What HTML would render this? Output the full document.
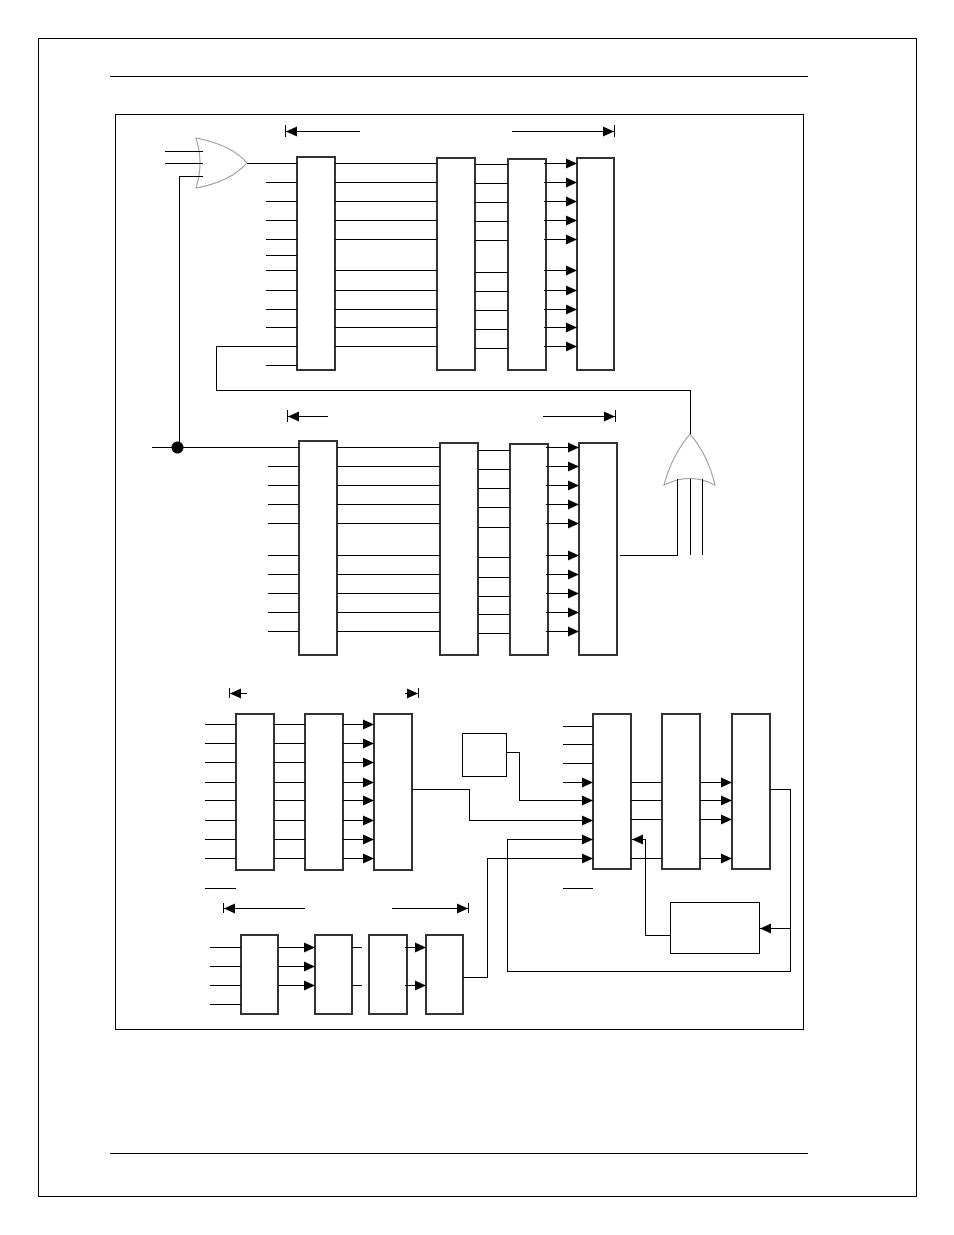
<!DOCTYPE html>
<html><head><meta charset="utf-8"><style>html,body{margin:0;padding:0;background:#fff}svg{display:block}</style></head><body>
<svg width="954" height="1235" viewBox="0 0 954 1235" xmlns="http://www.w3.org/2000/svg">
<defs>
<marker id="a" markerUnits="userSpaceOnUse" markerWidth="12" markerHeight="12" refX="11" refY="5" orient="auto"><path d="M0,0 L11,5 L0,10 Z" fill="#000"/></marker>
</defs>
<g fill="none" stroke="#000" stroke-width="1">
<rect x="38.5" y="38.5" width="878" height="1158"/>
<line x1="110" y1="76.5" x2="808" y2="76.5"/>
<line x1="110" y1="1153.5" x2="808" y2="1153.5"/>
<rect x="115.5" y="114.5" width="688" height="915"/>
</g>
<g fill="#fff" stroke="#333" stroke-width="2">
<rect x="297" y="157" width="38" height="213"/><rect x="437" y="158" width="38" height="212"/><rect x="508" y="159" width="38" height="211"/><rect x="577" y="158" width="37" height="212"/>
<rect x="299" y="441" width="38" height="214"/><rect x="440" y="443" width="38" height="212"/><rect x="510" y="444" width="38" height="211"/><rect x="579" y="443" width="38" height="212"/>
<rect x="236" y="714" width="38" height="156"/><rect x="305" y="714" width="38" height="156"/><rect x="374" y="714" width="38" height="156"/>
<rect x="593" y="714" width="38" height="155"/><rect x="662" y="714" width="38" height="155"/><rect x="732" y="714" width="38" height="155"/>
<rect x="241" y="935" width="37" height="79"/><rect x="315" y="935" width="37" height="79"/><rect x="369" y="935" width="38" height="79"/><rect x="426" y="935" width="37" height="79"/>
</g>
<g fill="#fff" stroke="#000" stroke-width="1">
<rect x="462.5" y="733.5" width="44" height="43"/>
<rect x="670.5" y="902.5" width="89" height="51"/>
</g>
<g fill="none" stroke="#999" stroke-width="1">
<path d="M196,138 Q204,163 196,188 Q230,182 247,163 Q232,145 196,138 Z"/>
<path d="M690,434 Q672,455 664,485 Q690,472 715,485 Q708,455 690,434 Z"/>
</g>
<g fill="none" stroke="#000" stroke-width="1">
<!-- gate1 -->
<path d="M165,151.5H203M165,163.5H203M179.5,447V176.5H203M247,163.5H297"/>
<!-- sec1 -->
<path d="M266,182.5H297M266,201.5H297M266,220.5H297M266,239.5H297M266,255.5H297M266,270.5H297M266,290.5H297M266,309.5H297M266,327.5H297M266,365.5H297M297,346.5H216.5V390.5H690.5V434"/>
<path d="M335,163.5H437M335,182.5H437M335,201.5H437M335,220.5H437M335,239.5H437M335,270.5H437M335,290.5H437M335,309.5H437M335,327.5H437M335,346.5H437"/>
<path d="M475,164.5H508M475,183.5H508M475,202.5H508M475,221.5H508M475,240.5H508M475,272.5H508M475,291.5H508M475,310.5H508M475,329.5H508M475,348.5H508"/>
<!-- sec2 -->
<path d="M152,447.5H299M268,466.5H299M268,485.5H299M268,504.5H299M268,523.5H299M268,555.5H299M268,574.5H299M268,593.5H299M268,612.5H299M268,631.5H299"/>
<path d="M337,447.5H440M337,466.5H440M337,485.5H440M337,504.5H440M337,523.5H440M337,555.5H440M337,574.5H440M337,593.5H440M337,612.5H440M337,631.5H440"/>
<path d="M478,450.5H510M478,469.5H510M478,488.5H510M478,507.5H510M478,527.5H510M478,557.5H510M478,577.5H510M478,596.5H510M478,614.5H510M478,633.5H510"/>
<path d="M620,555.5H677.5V479M690.5,479V555M702.5,479V555"/>
<!-- sec3 -->
<path d="M205,724.5H236M205,743.5H236M205,762.5H236M205,782.5H236M205,800.5H236M205,820.5H236M205,839.5H236M205,858.5H236M205,888.5H236"/>
<path d="M274,724.5H305M274,743.5H305M274,762.5H305M274,782.5H305M274,800.5H305M274,820.5H305M274,839.5H305M274,858.5H305"/>
<path d="M563,726.5H593M563,744.5H593M563,763.5H593M563,888.5H593"/>
<path d="M631,782.5H662M631,800.5H662M631,819.5H662M631,858.5H662"/>
<path d="M770,789.5H790.5V971.5H507.5V839"/>
<path d="M670,935.5H645.5V839"/>
<!-- sec4 -->
<path d="M210,947.5H241M210,966.5H241M210,985.5H241M210,1004.5H241M352,947.5H362M352,985.5H362M463,977.5H487.5V858"/>
<!-- dimension arrows -->
<path d="M285.5,125V137M614.5,125V137M287.5,410V422M615.5,410V422M229.5,688V698M418.5,688V698M223.5,903V913M468.5,903V913"/>
</g>
<g fill="none" stroke="#000" stroke-width="1" marker-end="url(#a)">
<path d="M360,131.5H286"/><path d="M512,131.5H614"/>
<path d="M328,416.5H288"/><path d="M543,416.5H615"/>
<path d="M247,693.5H230"/><path d="M405,693.5H418"/>
<path d="M305,908.5H224"/><path d="M392,908.5H468"/>
<path d="M544,163.5H577"/><path d="M544,182.5H577"/><path d="M544,201.5H577"/><path d="M544,220.5H577"/><path d="M544,239.5H577"/><path d="M544,270.5H577"/><path d="M544,290.5H577"/><path d="M544,309.5H577"/><path d="M544,327.5H577"/><path d="M544,346.5H577"/>
<path d="M546,447.5H579"/><path d="M546,466.5H579"/><path d="M546,485.5H579"/><path d="M546,504.5H579"/><path d="M546,523.5H579"/><path d="M546,555.5H579"/><path d="M546,574.5H579"/><path d="M546,593.5H579"/><path d="M546,612.5H579"/><path d="M546,631.5H579"/>
<path d="M343,724.5H374"/><path d="M343,743.5H374"/><path d="M343,762.5H374"/><path d="M343,782.5H374"/><path d="M343,800.5H374"/><path d="M343,820.5H374"/><path d="M343,839.5H374"/><path d="M343,858.5H374"/>
<path d="M412,789.5H469.5V820.5H593"/>
<path d="M506,752.5H519.5V800.5H593"/>
<path d="M563,782.5H593"/>
<path d="M507.5,839.5H593"/>
<path d="M487.5,858.5H593"/>
<path d="M700,782.5H732"/><path d="M700,800.5H732"/><path d="M700,819.5H732"/><path d="M700,858.5H732"/>
<path d="M790.5,928.5H760"/>
<path d="M645.5,839.5H632"/>
<path d="M278,947.5H315"/><path d="M278,966.5H315"/><path d="M278,985.5H315"/>
<path d="M405,947.5H426"/><path d="M405,985.5H426"/>
</g>
<circle cx="177.5" cy="447.5" r="6" fill="#000"/>
</svg>
</body></html>
